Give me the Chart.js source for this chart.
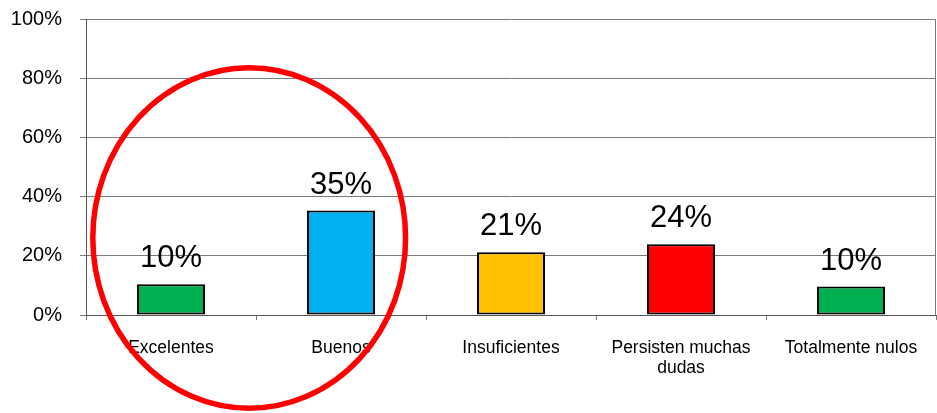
<!DOCTYPE html>
<html>
<head>
<meta charset="utf-8">
<script src="https://cdn.jsdelivr.net/npm/chart.js@4/dist/chart.umd.min.js"></script>
<style>
  html, body { margin: 0; padding: 0; background: #fff; }
  #wrap { width: 937px; height: 413px; }
</style>
</head>
<body>
<div id="wrap"><canvas id="chart" width="937" height="413"></canvas></div>
<script>
// Categories and values
const categories = ['Excelentes', 'Buenos', 'Insuficientes', ['Persisten muchas', 'dudas'], 'Totalmente nulos']
const values = [10.4, 35.3, 21.2, 23.9, 9.6]
const barColors = ['#00B050', '#00B0F0', '#FFC000', '#FF0000', '#00B050']
const yTicks = [0, 20, 40, 60, 80, 100]

// Red ellipse around the first two categories (in category / value units)
const ellipseCenter = { cat: 0.46, val: 26 }
const ellipseRadius = { cat: 0.92, val: 57.5 }

const FONT = "'Liberation Sans', Arial, sans-serif"

// Draws the % labels above every bar
const valueLabels = {
  id: 'valueLabels',
  afterDatasetsDraw(chart) {
    const c = chart.ctx
    const meta = chart.getDatasetMeta(0)
    c.save()
    c.font = '31px ' + FONT
    c.fillStyle = '#000'
    c.textAlign = 'center'
    c.textBaseline = 'alphabetic'
    meta.data.forEach((bar, i) => {
      c.fillText(Math.round(values[i]) + '%', bar.x, bar.y - 17)
    })
    c.restore()
  }
}

// Right frame line and the red ellipse
const extras = {
  id: 'extras',
  afterDraw(chart) {
    const c = chart.ctx
    const area = chart.chartArea
    const x = chart.scales.x
    const y = chart.scales.y
    c.save()
    c.strokeStyle = '#7a7a7a'
    c.lineWidth = 1
    c.beginPath()
    c.moveTo(Math.round(area.right) - 0.5, y.getPixelForValue(100))
    c.lineTo(Math.round(area.right) - 0.5, y.getPixelForValue(0))
    c.stroke()

    const cx = x.getPixelForValue(ellipseCenter.cat)
    const cy = y.getPixelForValue(ellipseCenter.val)
    const rx = x.getPixelForValue(ellipseCenter.cat + ellipseRadius.cat) - cx
    const ry = y.getPixelForValue(ellipseCenter.val - ellipseRadius.val) - cy
    c.strokeStyle = '#FF0000'
    c.lineWidth = 5.5
    c.beginPath()
    c.ellipse(cx, cy, rx, ry, 0, 0, Math.PI * 2)
    c.stroke()
    c.restore()
  }
}

new Chart(document.getElementById('chart'), {
  type: 'bar',
  data: {
    labels: categories,
    datasets: [{
      data: values,
      backgroundColor: barColors,
      borderColor: '#000',
      borderWidth: 2,
      borderSkipped: false,
      categoryPercentage: 1,
      barPercentage: 0.4
    }]
  },
  options: {
    responsive: false,
    animation: false,
    layout: { padding: { top: 19, right: 1, left: 0, bottom: 0 } },
    plugins: {
      legend: { display: false },
      tooltip: { enabled: false }
    },
    scales: {
      x: {
        offset: true,
        grid: {
          offset: true,
          drawOnChartArea: false,
          color: '#7a7a7a',
          tickLength: 5
        },
        border: { color: '#555', width: 1 },
        ticks: {
          autoSkip: false,
          maxRotation: 0,
          padding: 18,
          color: '#000',
          font: { family: FONT, size: 17.5, lineHeight: 1.15 }
        },
        afterFit: (scale) => { scale.height = 98 }
      },
      y: {
        min: 0,
        max: 100,
        afterBuildTicks: (scale) => { scale.ticks = yTicks.map(v => ({ value: v })) },
        grid: { color: '#7a7a7a', tickLength: 6 },
        border: { color: '#555', width: 1 },
        ticks: {
          padding: 18,
          color: '#000',
          font: { family: FONT, size: 20 },
          callback: (v) => v + '%'
        },
        afterFit: (scale) => {
          scale.width = 86
          scale.paddingTop = 0
          scale.paddingBottom = 0
        }
      }
    }
  },
  plugins: [valueLabels, extras]
})
</script>
</body>
</html>
